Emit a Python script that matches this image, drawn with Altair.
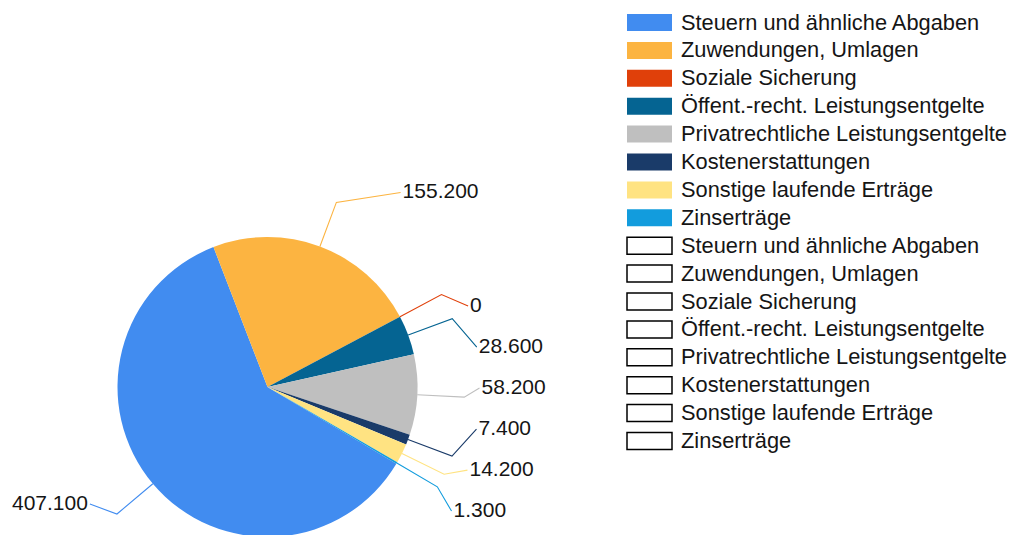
import math
import altair as alt
import pandas as pd

# ---------------- data ----------------
categories = [
    "Steuern und ähnliche Abgaben",
    "Zuwendungen, Umlagen",
    "Soziale Sicherung",
    "Öffent.-recht. Leistungsentgelte",
    "Privatrechtliche Leistungsentgelte",
    "Kostenerstattungen",
    "Sonstige laufende Erträge",
    "Zinserträge",
]
values = [407100, 155200, 0, 28600, 58200, 7400, 14200, 1300]
colors = ["#418CF0", "#FCB441", "#E0400A", "#056492", "#BFBFBF", "#1A3B69", "#FFE382", "#129CDD"]

# ---------------- layout / style ----------------
W, H = 1001, 527
CX, CY, R = 259.5, 379.0, 150.0
R_ELBOW = 197.0
START_DEG = 120.8
LABEL_RX, LABEL_RY = 212.0, 250.0
LABEL_GAP = 41.0
CLUSTER_GAP = 80.0
SINGLE_LIFT = 10.0
GROUP_DROP = 4.0
FONT = "Liberation Sans"
FS = 21
LEG_FS = 21.8
TEXT_COLOR = "#151515"

LEG_X0, LEG_X1 = 619, 664
LEG_TEXT_X = 673
LEG_Y0, LEG_STEP, LEG_H = 14.5, 27.9, 17

n = len(values)
total = float(sum(values))


def fmt(v):
    return f"{v:,}".replace(",", ".")


def text_width(s, size):
    # rough width of a number label in a Helvetica-like font
    return sum(0.278 if ch == "." else 0.556 for ch in s) * size


def pol(r, a):
    return CX + r * math.sin(a), CY - r * math.cos(a)


# mid angles of slices (clockwise from 12 o'clock)
mids = []
cum = 0.0
for v in values:
    a0 = START_DEG + 360.0 * cum / total
    a1 = START_DEG + 360.0 * (cum + v) / total
    mids.append(math.radians((a0 + a1) / 2))
    cum += v

edges = [pol(R, a) for a in mids]
elbows = [pol(R_ELBOW, a) for a in mids]
sides = [1 if math.sin(a) >= 0 else -1 for a in mids]
texts = [fmt(v) for v in values]

# label positions: spread clustered labels evenly, place on an ellipse
label_y = [0.0] * n
for side in (1, -1):
    idx = sorted([i for i in range(n) if sides[i] == side], key=lambda i: elbows[i][1])
    groups = []
    for i in idx:
        if groups and elbows[i][1] - elbows[groups[-1][-1]][1] < CLUSTER_GAP:
            groups[-1].append(i)
        else:
            groups.append([i])
    for g in groups:
        if len(g) == 1:
            label_y[g[0]] = elbows[g[0]][1] - SINGLE_LIFT
        else:
            mean = sum(elbows[i][1] for i in g) / len(g) + GROUP_DROP
            top = mean - LABEL_GAP * (len(g) - 1) / 2
            for k, i in enumerate(g):
                label_y[i] = top + LABEL_GAP * k

label_x = []
for i in range(n):
    x = CX + sides[i] * LABEL_RX * math.sqrt(max(0.0, 1 - ((label_y[i] - CY) / LABEL_RY) ** 2))
    if sides[i] < 0:
        x = max(x, text_width(texts[i], FS) + 6)   # keep left labels inside the chart
    label_x.append(x)

pie_df = pd.DataFrame({"cat": categories, "value": values, "idx": list(range(n))})

line_rows = []
for i in range(n):
    pts = [edges[i], elbows[i], (label_x[i], label_y[i])]
    for k, (x, y) in enumerate(pts):
        line_rows.append({"cat": categories[i], "k": k, "x": x, "y": y})
lines_df = pd.DataFrame(line_rows)

lab_df = pd.DataFrame({
    "cat": categories,
    "text": texts,
    "x": [label_x[i] + sides[i] * 2 for i in range(n)],
    "y": label_y,
    "side": sides,
})

leg_rows = []
for j in range(2 * n):
    c = categories[j % n]
    yc = LEG_Y0 + LEG_STEP * j
    leg_rows.append({"cat": c, "filled": j < n, "x0": LEG_X0, "x1": LEG_X1,
                     "y0": yc - LEG_H / 2, "y1": yc + LEG_H / 2, "yc": yc, "tx": LEG_TEXT_X})
leg_df = pd.DataFrame(leg_rows)

# ---------------- chart ----------------
xs = alt.Scale(domain=[0, W], nice=False, zero=False)
ys = alt.Scale(domain=[0, H], reverse=True, nice=False, zero=False)
cs = alt.Scale(domain=categories, range=colors)
start = math.radians(START_DEG)

pie = alt.Chart(pie_df).mark_arc(radius=R).encode(
    theta=alt.Theta("value:Q", stack=True, scale=alt.Scale(range=[start, start + 2 * math.pi])),
    color=alt.Color("cat:N", scale=cs, legend=None),
    order=alt.Order("idx:Q"),
    x=alt.value(CX),
    y=alt.value(CY),
)

leaders = alt.Chart(lines_df).mark_line(strokeWidth=1.1).encode(
    x=alt.X("x:Q", scale=xs, axis=None),
    y=alt.Y("y:Q", scale=ys, axis=None),
    detail="cat:N",
    order="k:Q",
    color=alt.Color("cat:N", scale=cs, legend=None),
)

labels_r = alt.Chart(lab_df).transform_filter("datum.side > 0").mark_text(
    align="left", baseline="middle", font=FONT, fontSize=FS, color=TEXT_COLOR
).encode(x=alt.X("x:Q", scale=xs, axis=None), y=alt.Y("y:Q", scale=ys, axis=None), text="text:N")

labels_l = alt.Chart(lab_df).transform_filter("datum.side < 0").mark_text(
    align="right", baseline="middle", font=FONT, fontSize=FS, color=TEXT_COLOR
).encode(x=alt.X("x:Q", scale=xs, axis=None), y=alt.Y("y:Q", scale=ys, axis=None), text="text:N")

leg_fill = alt.Chart(leg_df).transform_filter("datum.filled").mark_rect().encode(
    x=alt.X("x0:Q", scale=xs, axis=None), x2="x1:Q",
    y=alt.Y("y0:Q", scale=ys, axis=None), y2="y1:Q",
    color=alt.Color("cat:N", scale=cs, legend=None),
)

leg_empty = alt.Chart(leg_df).transform_filter("!datum.filled").mark_rect(
    fill="white", stroke="black", strokeWidth=1.5
).encode(
    x=alt.X("x0:Q", scale=xs, axis=None), x2="x1:Q",
    y=alt.Y("y0:Q", scale=ys, axis=None), y2="y1:Q",
)

leg_text = alt.Chart(leg_df).mark_text(
    align="left", baseline="middle", font=FONT, fontSize=LEG_FS, color=TEXT_COLOR
).encode(
    x=alt.X("tx:Q", scale=xs, axis=None),
    y=alt.Y("yc:Q", scale=ys, axis=None),
    text="cat:N",
)

chart = alt.layer(pie, leaders, labels_r, labels_l, leg_fill, leg_empty, leg_text).properties(
    width=W, height=H, padding=0, autosize=alt.AutoSizeParams(type="none")
).configure_view(stroke=None)

chart.save("out.html", embed_options={"renderer": "svg", "actions": False})
